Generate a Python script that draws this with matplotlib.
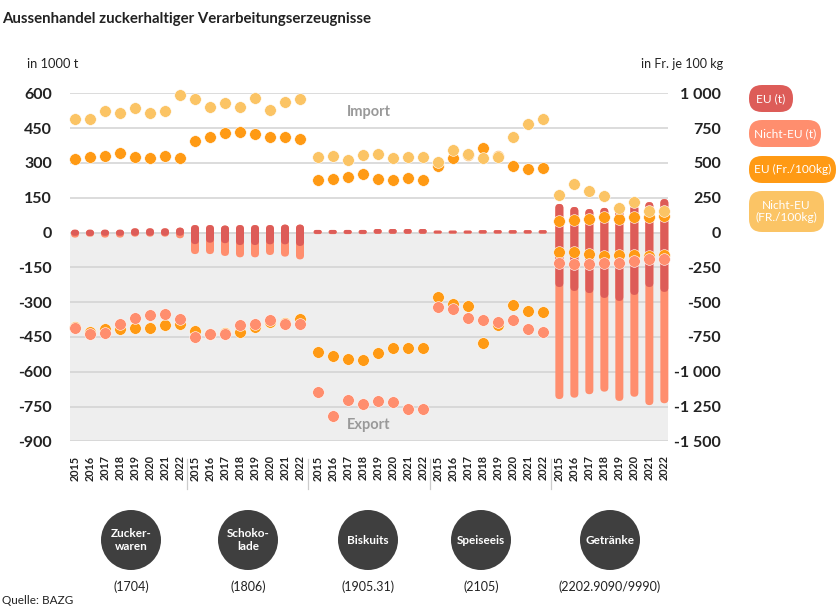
import numpy as np
import matplotlib
matplotlib.use("Agg")
import matplotlib.pyplot as plt
from matplotlib.patches import FancyBboxPatch, Circle

plt.rcParams["font.family"] = ["Lato", "DejaVu Sans"]

years = [2015, 2016, 2017, 2018, 2019, 2020, 2021, 2022]
groups = ["Zucker-\nwaren", "Schoko-\nlade", "Biskuits", "Speiseeis", "Getränke"]
codes = ["(1704)", "(1806)", "(1905.31)", "(2105)", "(2202.9090/9990)"]

# bars, tonnes (left axis)
bar_top = [12, 12, 12, 12, 18, 18, 18, 21,
           32, 32, 30, 32, 32, 32, 34, 34,
           11, 11, 11, 11, 15, 15, 15, 15,
           8, 8, 8, 10, 10, 10, 10, 10,
           123, 110, 101, 106, 119, 119, 131, 144]
eu_low = [-14, -15, -14, -14, -14, -14, -14, -14,
          -50, -44, -46, -54, -54, -51, -51, -58,
          -6, -6, -6, -6, -5, -5, -5, -5,
          -4, -4, -4, -4, -4, -4, -4, -4,
          -235, -252, -261, -282, -295, -269, -235, -256]
neu_low = [-22, -18, -22, -22, -18, -18, -18, -25,
           -93, -93, -101, -107, -107, -97, -104, -116,
           -7, -7, -7, -7, -6, -6, -6, -6,
           -5, -5, -5, -5, -5, -5, -5, -5,
           -718, -712, -697, -686, -726, -708, -744, -736]

# prices, Fr. per 100 kg (right axis)
imp_eu = [528, 542, 550, 569, 542, 537, 550, 533,
          655, 684, 717, 720, 705, 684, 686, 674,
          379, 382, 396, 423, 387, 375, 392, 379,
          478, 533, 557, 609, 550, 478, 456, 463,
          83, 92, 97, 109, 97, 109, 109, 121]
imp_neu = [813, 813, 875, 858, 892, 861, 875, 990,
           961, 904, 930, 904, 969, 882, 935, 961,
           545, 550, 519, 554, 566, 533, 545, 545,
           504, 595, 564, 533, 542, 684, 779, 815,
           269, 346, 296, 264, 178, 217, 154, 158]
exp_eu = [-679, -715, -696, -696, -684, -688, -662, -657,
          -705, -732, -724, -712, -676, -646, -648, -619,
          -858, -885, -909, -916, -866, -828, -828, -832,
          -463, -516, -526, -794, -665, -518, -562, -571,
          -138, -140, -154, -169, -162, -162, -167, -164]
exp_neu = [-688, -729, -720, -660, -612, -595, -583, -619,
           -748, -732, -729, -667, -657, -631, -660, -660,
           -1146, -1316, -1201, -1230, -1208, -1215, -1268, -1268,
           -535, -550, -612, -626, -641, -629, -696, -717,
           -221, -228, -228, -221, -217, -202, -193, -190]

left_ticks = [600, 450, 300, 150, 0, -150, -300, -450, -600, -750, -900]
right_ticks = [1000, 750, 500, 250, 0, -250, -500, -750, -1000, -1250, -1500]

C_EU = "#DD5C58"
C_NEU = "#FF8E6E"
C_PEU = "#FF9A14"
C_PNEU = "#FBC465"
C_TEXT = "#222222"
W, H = 836, 616
LEFT, RIGHT, TOP, BOTTOM = 70, 668, 93.3, 441.3
STEP = 15.0
BAR_PX = 8.0
Y_PX = (BOTTOM - TOP) / 1500

group_start = [0, 8, 16.18, 24.18, 32.29]
x = np.concatenate([s + np.arange(8) for s in group_start])


def rounded_bar(ax, xc, lo, hi, color):
    # radius in x units, mutation_aspect keeps the corners round on screen
    h_px = (hi - lo) * Y_PX
    w = BAR_PX / STEP
    r = min(BAR_PX, h_px) / 2 / STEP
    ax.add_patch(FancyBboxPatch((xc - w / 2, lo), w, hi - lo,
                                boxstyle=f"round,pad=0,rounding_size={r}",
                                mutation_aspect=STEP / Y_PX,
                                fc=color, ec="none", zorder=3, clip_on=False))


fig = plt.figure(figsize=(W / 100, H / 100), dpi=100)
ax = fig.add_axes([LEFT / W, 1 - BOTTOM / H, (RIGHT - LEFT) / W, (BOTTOM - TOP) / H])
ax.set_xlim((LEFT - 75) / STEP, (RIGHT - 75) / STEP)
ax.set_ylim(-900, 600)
ax.axhspan(-900, 0, color="#EEEEEE", zorder=0, lw=0)
ax.set_yticks(left_ticks)
ax.set_yticklabels([str(t) for t in left_ticks])
ax.set_xticks([])
ax.grid(axis="y", color="#D2D2D2", lw=1.1, zorder=1)
ax.set_axisbelow(True)
ax.tick_params(axis="y", length=0, pad=13, labelsize=11.5, labelcolor=C_TEXT)
for lbl in ax.get_yticklabels():
    lbl.set_fontweight("bold")
for s in ax.spines.values():
    s.set_visible(False)

for i, xc in enumerate(x):
    rounded_bar(ax, xc, neu_low[i], bar_top[i], C_NEU)
    rounded_bar(ax, xc, eu_low[i], bar_top[i], C_EU)

ax2 = ax.twinx()
ax2.set_ylim(-1500, 1000)
ax2.set_yticks(right_ticks)
ax2.set_yticklabels([f"{t:,}".replace(",", " ") for t in right_ticks])
ax2.tick_params(axis="y", length=0, pad=38, labelsize=11.5, labelcolor=C_TEXT)
for lbl in ax2.get_yticklabels():
    lbl.set_ha("right")
    lbl.set_fontweight("bold")
for s in ax2.spines.values():
    s.set_visible(False)

dot = dict(ls="none", marker="o", ms=8.4, mec="#FFFFFF", mew=0.4, clip_on=False)
ax2.plot(x, exp_eu, color=C_PEU, zorder=4, **dot)
ax2.plot(x, exp_neu, color=C_NEU, zorder=5, **dot)
ax2.plot(x, imp_eu, color=C_PEU, zorder=4, **dot)
ax2.plot(x, imp_neu, color=C_PNEU, zorder=5, **dot)

# overlay in pixel coordinates for the furniture around the plot
ov = fig.add_axes([0, 0, 1, 1], zorder=10)
ov.set_xlim(0, W)
ov.set_ylim(H, 0)
ov.axis("off")
ov.patch.set_alpha(0)

ov.text(2, 19, "Aussenhandel zuckerhaltiger Verarbeitungserzeugnisse",
        fontsize=10.8, fontweight="bold", color=C_TEXT, va="center")
ov.text(27, 64, "in 1000 t", fontsize=9.3, color=C_TEXT, va="center")
ov.text(723, 64, "in Fr. je 100 kg", fontsize=9, color=C_TEXT, va="center", ha="right")
ov.text(369, 112, "Import", fontsize=10.5, fontweight="bold", color="#999999", ha="center", va="center")
ov.text(369, 425, "Export", fontsize=10.5, fontweight="bold", color="#999999", ha="center", va="center")
ov.text(2, 600, "Quelle: BAZG", fontsize=8.5, color=C_TEXT, va="center")

for i, xc in enumerate(x):
    ov.text(75 + xc * STEP, 468, str(years[i % 8]), rotation=90, fontsize=7.8,
            fontweight="bold", color=C_TEXT, ha="center", va="center")
for px in [187, 308, 430, 551]:
    ov.plot([px, px], [459, 489], color="#CCCCCC", lw=0.9)

for cx, name, code in zip([131, 248, 368, 481, 610], groups, codes):
    ov.add_patch(Circle((cx, 540), 30, fc="#3F3F3F", ec="none"))
    ov.text(cx, 540, name, color="white", fontsize=8.5, fontweight="bold",
            ha="center", va="center", linespacing=1.25)
    ov.text(cx, 587, code, color=C_TEXT, fontsize=9, ha="center", va="center")

pills = [(749, 85, 44, 27, C_EU, "EU (t)"),
         (749, 120, 72, 27, C_NEU, "Nicht-EU (t)"),
         (749, 156, 87, 27, C_PEU, "EU (Fr./100kg)"),
         (749, 191, 75, 41, C_PNEU, "Nicht-EU\n(FR./100kg)")]
for px, py, pw, ph, col, txt in pills:
    r = min(13, ph / 2)
    ov.add_patch(FancyBboxPatch((px, py), pw, ph, boxstyle=f"round,pad=0,rounding_size={r}",
                                fc=col, ec="none", clip_on=False))
    ov.text(px + pw / 2, py + ph / 2, txt, color="white", fontsize=8.6,
            ha="center", va="center", linespacing=1.15)

fig.savefig("out.png", dpi=100)
